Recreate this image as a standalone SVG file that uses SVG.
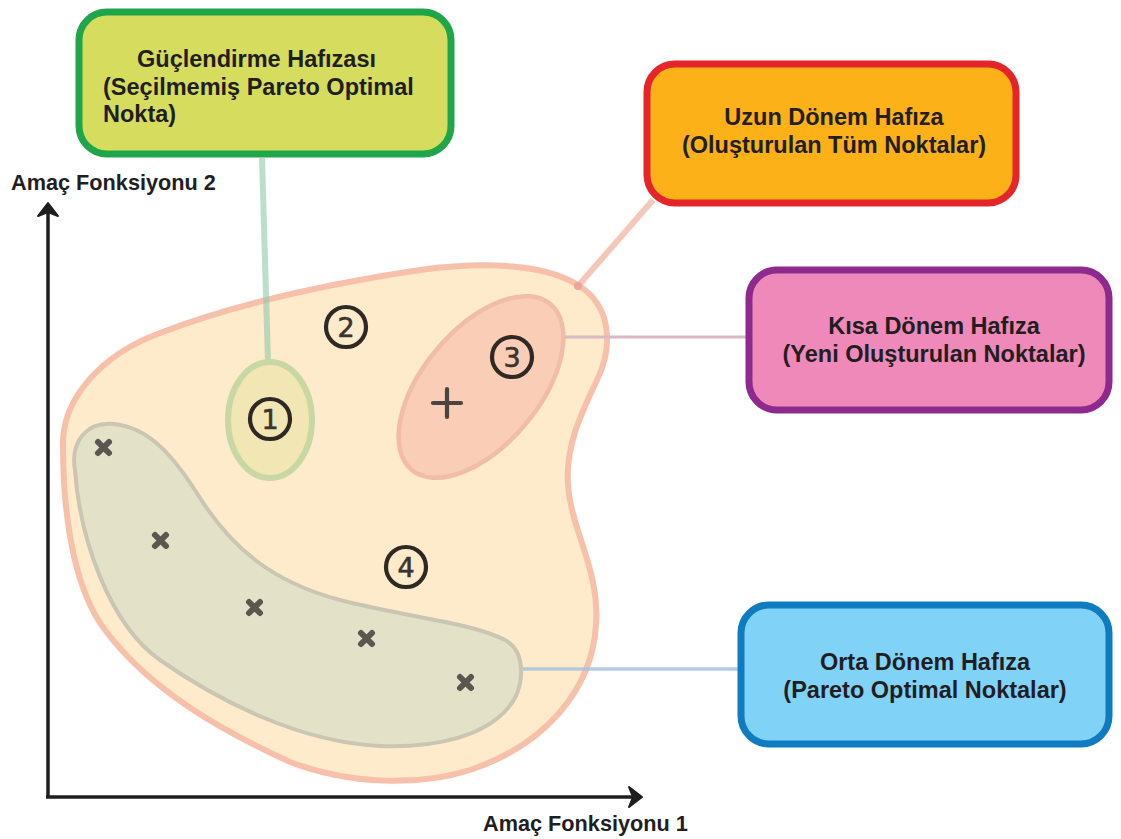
<svg xmlns="http://www.w3.org/2000/svg" width="1121" height="839" viewBox="0 0 1121 839">
  <defs>
    <style>
      .lbl { font-family: "Liberation Sans", Arial, sans-serif; font-weight: bold; font-size: 23.5px; fill: #221e1f; }
      .axis-lbl { font-family: "Liberation Sans", Arial, sans-serif; font-weight: bold; font-size: 21.7px; fill: #221e1f; }
      .box { stroke-width: 7; }
      .num-ring { fill: none; stroke: #2e2925; stroke-width: 4.2; }
      .num { font-family: "DejaVu Sans", sans-serif; font-size: 27px; fill: #3a3430; text-anchor: middle; stroke: #3a3430; stroke-width: 0.6; }
      .xmark { stroke: #5a5650; stroke-width: 6; stroke-linecap: round; }
      .axis { stroke: #1e1e1e; stroke-width: 3.5; fill: none; }
      .conn { fill: none; }
    </style>
  </defs>

  <rect width="1121" height="839" fill="#ffffff"/>

  <!-- objective space axes -->
  <g id="axes">
    <line class="axis" x1="48" y1="212" x2="48" y2="797"/>
    <line class="axis" x1="46" y1="797" x2="632" y2="797"/>
    <polygon points="48,203 38,216 48,212 58,216" fill="#1e1e1e" stroke="#1e1e1e" stroke-width="2" stroke-linejoin="round"/>
    <polygon points="642,797 629,787 633,797 629,807" fill="#1e1e1e" stroke="#1e1e1e" stroke-width="2" stroke-linejoin="round"/>
    <text class="axis-lbl" x="11" y="190">Amaç Fonksiyonu 2</text>
    <text class="axis-lbl" x="483" y="831">Amaç Fonksiyonu 1</text>
  </g>

  <!-- long-term memory region: all generated points -->
  <g id="region-long">
    <path d="M 63,445 C 62,400 100,355 160,333 C 230,306 320,285 420,270 C 480,262 550,262 585,290 C 612,312 612,350 597,380 C 583,410 565,445 568,485 C 571,530 600,570 596,625 C 592,690 545,745 470,770 C 420,786 350,785 290,762 C 220,730 150,690 105,630 C 75,590 63,520 63,445 Z" fill="#fdebcb" stroke="#f7c0ab" stroke-width="6"/>
  </g>

  <!-- connectors from regions to their memory boxes -->
  <g id="connectors">
    <line class="conn" x1="262" y1="158" x2="268" y2="362" stroke="#8fcaa8" stroke-opacity="0.6" stroke-width="6"/>
    <line class="conn" x1="653" y1="200" x2="578" y2="286" stroke="#f2b4a0" stroke-opacity="0.75" stroke-width="6"/>
    <circle cx="578" cy="286" r="4" fill="#efa49a"/>
    <line class="conn" x1="565" y1="337" x2="747" y2="337" stroke="#d7b9c8" stroke-width="3"/>
    <line class="conn" x1="520" y1="669" x2="740" y2="669" stroke="#a9c2e2" stroke-opacity="0.85" stroke-width="3.5"/>
  </g>

  <!-- medium-term memory region: Pareto optimal points -->
  <g id="region-medium">
    <path d="M 75,470 C 70,440 88,422 113,424 C 150,427 175,458 200,498 C 232,548 272,582 340,600 C 405,617 470,622 505,640 C 527,652 525,688 508,708 C 485,735 440,748 380,746 C 300,742 220,702 160,660 C 110,625 80,540 75,470 Z" fill="#e4e1c9" stroke="#cac6b3" stroke-width="4"/>
    <g id="pareto-points">
      <path class="xmark" d="M 98,442 L 109,453 M 109,442 L 98,453"/>
      <path class="xmark" d="M 155,535 L 166,546 M 166,535 L 155,546"/>
      <path class="xmark" d="M 249,602 L 260,613 M 260,602 L 249,613"/>
      <path class="xmark" d="M 361,633 L 372,644 M 372,633 L 361,644"/>
      <path class="xmark" d="M 460,677 L 471,688 M 471,677 L 460,688"/>
    </g>
  </g>

  <!-- reinforcement memory region -->
  <g id="region-reinforce">
    <ellipse cx="270" cy="420" rx="42" ry="58" fill="#f1e6b4" stroke="#c8d7a3" stroke-width="6"/>
  </g>

  <!-- short-term memory region -->
  <g id="region-short">
    <ellipse cx="481" cy="387" rx="108" ry="58" transform="rotate(-50 481 387)" fill="#f9cdb6" stroke="#f1bca8" stroke-width="4.5"/>
    <path d="M 433,403 L 461,403 M 447,389 L 447,417" stroke="#4a4540" stroke-width="4.2" stroke-linecap="round"/>
  </g>

  <!-- numbered markers -->
  <g id="marker-1">
    <circle class="num-ring" cx="270" cy="419" r="20"/>
    <text class="num" x="270" y="429">1</text>
  </g>
  <g id="marker-2">
    <circle class="num-ring" cx="346" cy="327" r="20"/>
    <text class="num" x="346" y="337">2</text>
  </g>
  <g id="marker-3">
    <circle class="num-ring" cx="512" cy="357" r="20"/>
    <text class="num" x="512" y="367">3</text>
  </g>
  <g id="marker-4">
    <circle class="num-ring" cx="406" cy="567" r="20"/>
    <text class="num" x="406" y="577">4</text>
  </g>

  <!-- memory boxes -->
  <g id="box-reinforce">
    <rect class="box" x="79" y="12" width="372" height="142" rx="28" fill="#d6dd5e" stroke="#20a64a"/>
    <text class="lbl" x="137" y="67">Güçlendirme Hafızası</text>
    <text class="lbl" x="103" y="95">(Seçilmemiş Pareto Optimal</text>
    <text class="lbl" x="103" y="122">Nokta)</text>
  </g>

  <g id="box-long">
    <rect class="box" x="647" y="64" width="369" height="139" rx="28" fill="#fbb117" stroke="#e6252a"/>
    <text class="lbl" x="834" y="125" text-anchor="middle">Uzun Dönem Hafıza</text>
    <text class="lbl" x="834" y="153" text-anchor="middle">(Oluşturulan Tüm Noktalar)</text>
  </g>

  <g id="box-short">
    <rect class="box" x="749" y="270" width="360" height="140" rx="28" fill="#ef89b9" stroke="#8e2a8e"/>
    <text class="lbl" x="934" y="334" text-anchor="middle">Kısa Dönem Hafıza</text>
    <text class="lbl" x="934" y="362" text-anchor="middle">(Yeni Oluşturulan Noktalar)</text>
  </g>

  <g id="box-medium">
    <rect class="box" x="741" y="605" width="368" height="139" rx="28" fill="#80d3f6" stroke="#0f7bc1"/>
    <text class="lbl" x="925" y="670" text-anchor="middle">Orta Dönem Hafıza</text>
    <text class="lbl" x="925" y="698" text-anchor="middle">(Pareto Optimal Noktalar)</text>
  </g>
</svg>
